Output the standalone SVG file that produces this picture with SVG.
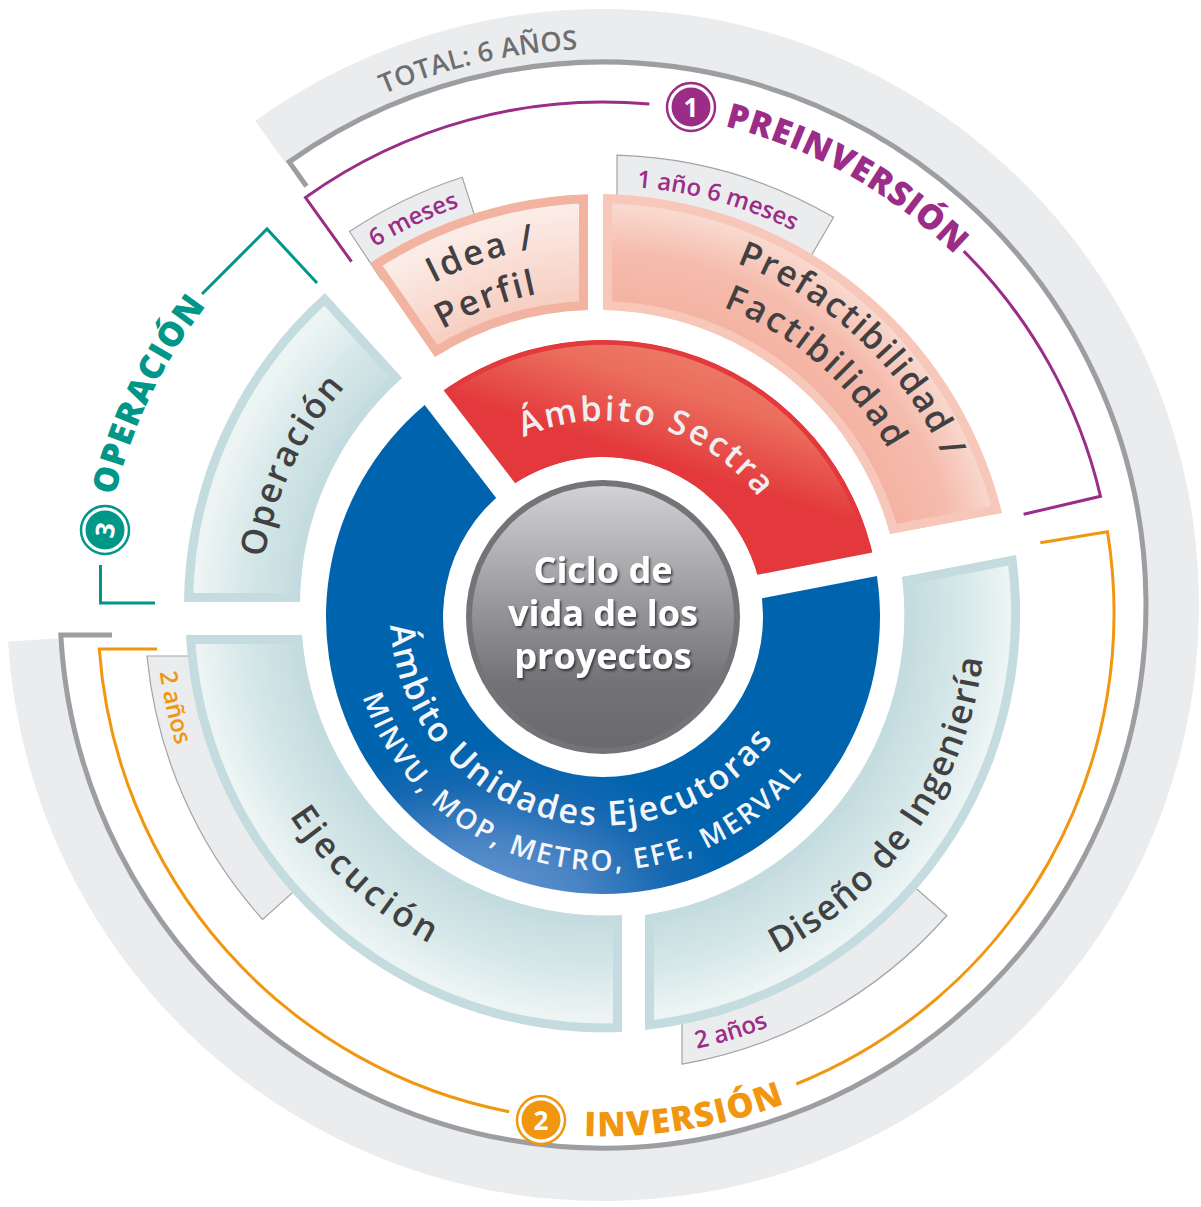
<svg xmlns="http://www.w3.org/2000/svg" width="1201" height="1207" viewBox="0 0 1201 1207">
<defs>
<style>
text{font-family:"Open Sans","Noto Sans","DejaVu Sans",sans-serif}
.seg{font-size:35px;font-weight:600;fill:#414042}
.tab{fill:#ebecee;stroke:#a2a3a6;stroke-width:1.2}
.tabt{font-size:24px;font-weight:600}
.ph{font-size:34px;font-weight:800}
.num{font-size:26px;font-weight:700;fill:#fff}
.core{font-size:36px;font-weight:700;fill:#fff}
.br{fill:none;stroke-width:3}
</style>
<filter id="sh" x="-10%" y="-10%" width="120%" height="130%">
<feDropShadow dx="1.5" dy="2" stdDeviation="0.8" flood-color="#2a2a2d" flood-opacity="0.85"/>
</filter>
<linearGradient id="gCore" x1="0" y1="0" x2="0" y2="1">
<stop offset="0" stop-color="#d2d2d4"/><stop offset="0.45" stop-color="#98989c"/><stop offset="0.75" stop-color="#737377"/><stop offset="1" stop-color="#6a6a6e"/>
</linearGradient>
<linearGradient id="gRed" x1="0.3" y1="0.85" x2="0.75" y2="0.05">
<stop offset="0" stop-color="#e3393c"/><stop offset="0.45" stop-color="#e3393c"/><stop offset="0.75" stop-color="#eb6d5d"/><stop offset="0.9" stop-color="#ec7866"/><stop offset="1" stop-color="#e9604f"/>
</linearGradient>
<radialGradient id="gBlue" gradientUnits="userSpaceOnUse" cx="480" cy="905" r="160" gradientTransform="translate(480 905) scale(1.6 1) translate(-480 -905)">
<stop offset="0" stop-color="#6a99d2"/><stop offset="0.4" stop-color="#4a84c5"/><stop offset="0.75" stop-color="#1568b1"/><stop offset="1" stop-color="#0063ae"/>
</radialGradient>
<radialGradient id="gTeal" gradientUnits="userSpaceOnUse" cx="603" cy="613" r="419">
<stop offset="0.72" stop-color="#c3dbde"/><stop offset="0.85" stop-color="#d5e7e8"/><stop offset="0.97" stop-color="#edf4f4"/>
</radialGradient>
<radialGradient id="gPre" gradientUnits="userSpaceOnUse" cx="603" cy="613" r="419">
<stop offset="0.72" stop-color="#f4b2a1"/><stop offset="0.86" stop-color="#f5bcad"/><stop offset="0.97" stop-color="#f9d9cf"/>
</radialGradient>
<radialGradient id="gIdea" gradientUnits="userSpaceOnUse" cx="603" cy="613" r="419">
<stop offset="0.72" stop-color="#f6cabd"/><stop offset="0.85" stop-color="#f9dcd3"/><stop offset="0.97" stop-color="#fcece7"/>
</radialGradient>
<clipPath id="cIdea"><path id="pIdea" d="M 370 263 A 419 419 0 0 1 588 194.3 L 588 310 A 303 303 0 0 0 435 357 Z"/></clipPath>
<clipPath id="cPre"><path id="pPre" d="M 603 194 A 419 419 0 0 1 1002 513 L 890 534 A 303 303 0 0 0 603 310 Z"/></clipPath>
<clipPath id="cDis"><path id="pDis" d="M 1016 555 A 419 419 0 0 1 645 1030 L 645 915 A 303 303 0 0 0 902 577 Z"/></clipPath>
<clipPath id="cEje"><path id="pEje" d="M 622 1032 A 419 419 0 0 1 186 635 L 302 635 A 303 303 0 0 0 622 915 Z"/></clipPath>
<clipPath id="cOpe"><path id="pOpe" d="M 184 602 A 419 419 0 0 1 325 293 L 402 378 A 303 303 0 0 0 300 602 Z"/></clipPath>
<clipPath id="cRed"><path id="pRed" d="M 434.0 397.5 A 277 277 0 0 1 874.9 564.1 L 760.1 586.5 A 160 160 0 0 0 505.4 490.2 Z"/></clipPath>
<path id="tpSectra" d="M 414.2 564.3 A 196 196 0 0 1 793.5 663.1"/>
<path id="tpBlue1" d="M 398.5 553.0 A 210 210 0 0 0 806.6 673.0"/>
<path id="tpBlue2" d="M 352.9 578.7 A 253 253 0 0 0 851.6 664.0"/>
<path id="tpIdea" d="M 252.4 724.9 A 368 368 0 0 1 949.5 488.9"/>
<path id="tpPerfil" d="M 294.6 724.6 A 328 328 0 0 1 909.4 496.0"/>
<path id="tpPre1" d="M 337.2 352.7 A 372 372 0 0 1 877.8 863.8"/>
<path id="tpPre2" d="M 357.8 392.2 A 330 330 0 0 1 855.8 825.1"/>
<path id="tpDis" d="M 389.4 932.1 A 384 384 0 0 0 827.6 301.6"/>
<path id="tpEje" d="M 321.3 367.0 A 374 374 0 0 0 876.1 868.5"/>
<path id="tpOpe" d="M 450.5 920.2 A 343 343 0 0 1 744.7 300.6"/>
<path id="tp6m" d="M 214.6 799.9 A 431 431 0 0 1 991.4 426.1"/>
<path id="tp1a" d="M 187.7 497.8 A 431 431 0 0 1 1018.3 728.2"/>
<path id="tp2b" d="M 178.8 750.8 A 446 446 0 0 0 1031.7 490.1"/>
<path id="tp2l" d="M 499.4 178.2 A 447 447 0 0 0 691.4 1051.2"/>
<path id="tpPREINV" d="M 169.6 359.7 A 502 502 0 0 1 1045.0 851.0"/>
<path id="tpINV" d="M 88.3 705.6 A 523 523 0 0 0 1120.7 538.4"/>
<path id="tpOPER" d="M 378.3 1059.7 A 500 500 0 0 1 811.9 158.7"/>
<path id="tpTotal" d="M 61.0 729.1 A 556 556 0 0 1 1145.0 480.9"/>
</defs>
<rect width="1201" height="1207" fill="#fff"/>

<g id="total">
<path d="M 255.2 121.0 A 596 596 0 1 1 8.1 641.4 L 61.0 638.2 A 543 543 0 1 0 286.2 164.0 Z" fill="#ebecee"/>
<path d="M 306.5 186.3 L 289.2 161.9 A 543 543 0 1 1 60.8 635 L 112 635" fill="none" stroke="#9d9ea2" stroke-width="5"/>
<text font-size="27" font-weight="600" fill="#6d6e71" letter-spacing="0.3"><textPath href="#tpTotal" startOffset="50%" text-anchor="middle">TOTAL: 6 AÑOS</textPath></text>
</g>

<g id="connectors">
<path class="br" stroke="#9b2d87" d="M 351.5 261.7 L 305.5 197.5 A 511 511 0 0 1 649.3 104.1"/>
<path class="br" stroke="#9b2d87" d="M 963.7 251.1 A 511 511 0 0 1 1100.5 496.3 L 1023.6 514.3"/>
<path class="br" stroke="#f0960f" d="M 1040.3 542.7 L 1107.5 531.8 A 508 508 0 0 1 796.3 1084.0"/>
<path class="br" stroke="#f0960f" d="M 509.1 1111.7 A 508 508 0 0 1 99.3 649 L 157 649"/>
<polyline class="br" stroke="#009688" points="202,294 267,229 317,283"/>
<polyline class="br" stroke="#009688" points="100.5,565 100.5,603 155,603"/>
</g>

<g id="phase-preinversion">
<circle cx="691" cy="107" r="24" fill="#fff" stroke="#9b2d87" stroke-width="2.5"/>
<circle cx="691" cy="107" r="19.5" fill="#9b2d87"/>
<text class="num" x="691" y="116.5" text-anchor="middle">1</text>
<text class="ph" fill="#9b2d87" letter-spacing="1"><textPath href="#tpPREINV" startOffset="50%" text-anchor="middle">PREINVERSIÓN</textPath></text>
</g>
<g id="phase-inversion">
<circle cx="541" cy="1120" r="24" fill="#fff" stroke="#f0960f" stroke-width="2.5"/>
<circle cx="541" cy="1120" r="19.5" fill="#f0960f"/>
<text class="num" x="541" y="1129.5" text-anchor="middle">2</text>
<text class="ph" fill="#f0960f" letter-spacing="1.5"><textPath href="#tpINV" startOffset="50%" text-anchor="middle">INVERSIÓN</textPath></text>
</g>
<g id="phase-operacion">
<circle cx="105" cy="530" r="24" fill="#fff" stroke="#009688" stroke-width="2.5"/>
<circle cx="105" cy="530" r="19.5" fill="#009688"/>
<text class="num" x="105" y="539.5" text-anchor="middle" transform="rotate(-80 105 530)">3</text>
<text class="ph" fill="#009688" letter-spacing="1"><textPath href="#tpOPER" startOffset="50%" text-anchor="middle">OPERACIÓN</textPath></text>
</g>

<g id="tabs">
<path class="tab" d="M 381.6 279.8 L 349.5 231.5 A 458 458 0 0 1 462.2 177.2 L 480.0 232.4 Z"/>
<path class="tab" d="M 617 205 L 617 155.2 A 458 458 0 0 1 833.6 217.3 L 804.4 267.4 Z"/>
<path class="tab" d="M 903.4 877.2 L 946.9 915.5 A 458 458 0 0 1 682 1064.1 L 682 1015 Z"/>
<path class="tab" d="M 200 656 L 147 656 A 458 458 0 0 0 262.7 919.5 L 305.8 880.6 Z"/>
<text class="tabt" fill="#9b2d87"><textPath href="#tp6m" startOffset="50%" text-anchor="middle">6 meses</textPath></text>
<text class="tabt" fill="#9b2d87"><textPath href="#tp1a" startOffset="50%" text-anchor="middle">1 año 6 meses</textPath></text>
<text class="tabt" fill="#9b2d87"><textPath href="#tp2b" startOffset="50%" text-anchor="middle">2 años</textPath></text>
<text class="tabt" fill="#f0960f"><textPath href="#tp2l" startOffset="50%" text-anchor="middle">2 años</textPath></text>
</g>

<g id="idea-perfil">
<use href="#pIdea" fill="url(#gIdea)" stroke="#f3b3a1" stroke-width="18" clip-path="url(#cIdea)"/>
<text class="seg" letter-spacing="2.5"><textPath href="#tpIdea" startOffset="50%" text-anchor="middle">Idea /</textPath></text>
<text class="seg" letter-spacing="2.5"><textPath href="#tpPerfil" startOffset="50%" text-anchor="middle">Perfil</textPath></text>
</g>
<g id="prefactibilidad">
<use href="#pPre" fill="url(#gPre)" stroke="#f7c8ba" stroke-width="18" clip-path="url(#cPre)"/>
<text class="seg" letter-spacing="1.5"><textPath href="#tpPre1" startOffset="50%" text-anchor="middle">Prefactibilidad /</textPath></text>
<text class="seg" letter-spacing="2.5"><textPath href="#tpPre2" startOffset="50%" text-anchor="middle">Factibilidad</textPath></text>
</g>
<g id="diseno">
<use href="#pDis" fill="url(#gTeal)" stroke="#c4dcdf" stroke-width="18" clip-path="url(#cDis)"/>
<text class="seg" letter-spacing="1.5"><textPath href="#tpDis" startOffset="50%" text-anchor="middle">Diseño de Ingeniería</textPath></text>
</g>
<g id="ejecucion">
<use href="#pEje" fill="url(#gTeal)" stroke="#c4dcdf" stroke-width="18" clip-path="url(#cEje)"/>
<text class="seg" letter-spacing="4"><textPath href="#tpEje" startOffset="50%" text-anchor="middle">Ejecución</textPath></text>
</g>
<g id="operacion">
<use href="#pOpe" fill="url(#gTeal)" stroke="#c4dcdf" stroke-width="18" clip-path="url(#cOpe)"/>
<text class="seg" letter-spacing="2"><textPath href="#tpOpe" startOffset="50%" text-anchor="middle">Operación</textPath></text>
</g>

<g id="ambito-sectra">
<use href="#pRed" fill="url(#gRed)" stroke="#e3393c" stroke-width="10" clip-path="url(#cRed)"/>
</g>
<g id="ambito-unidades">
<path d="M 874.9 564.1 A 277 277 0 1 1 434.0 397.5 L 505.4 490.2 A 160 160 0 1 0 760.1 586.5 Z" fill="url(#gBlue)"/>
</g>
<g id="gaps">
<line x1="511.5" y1="498.2" x2="426.1" y2="387.2" stroke="#fff" stroke-width="24"/>
<line x1="750.2" y1="588.4" x2="887.7" y2="561.7" stroke="#fff" stroke-width="24"/>
</g>
<g id="ring-labels">
<text font-size="34" font-weight="600" fill="#efeff0" letter-spacing="2.5"><textPath href="#tpSectra" startOffset="50%" text-anchor="middle">Ámbito Sectra</textPath></text>
<text font-size="34" font-weight="600" fill="#f4f6fa" letter-spacing="2.2"><textPath href="#tpBlue1" startOffset="50%" text-anchor="middle">Ámbito Unidades Ejecutoras</textPath></text>
<text font-size="28" font-weight="600" fill="#f4f6fa" letter-spacing="2.5"><textPath href="#tpBlue2" startOffset="50%" text-anchor="middle">MINVU, MOP, METRO, EFE, MERVAL</textPath></text>
</g>

<g id="ciclo">
<circle cx="603" cy="617" r="137" fill="#747478"/>
<circle cx="603" cy="617" r="131" fill="url(#gCore)"/>
<text class="core" text-anchor="middle" filter="url(#sh)"><tspan x="603" y="583">Ciclo de</tspan><tspan x="603" y="626">vida de los</tspan><tspan x="603" y="669">proyectos</tspan></text>
</g>
</svg>
